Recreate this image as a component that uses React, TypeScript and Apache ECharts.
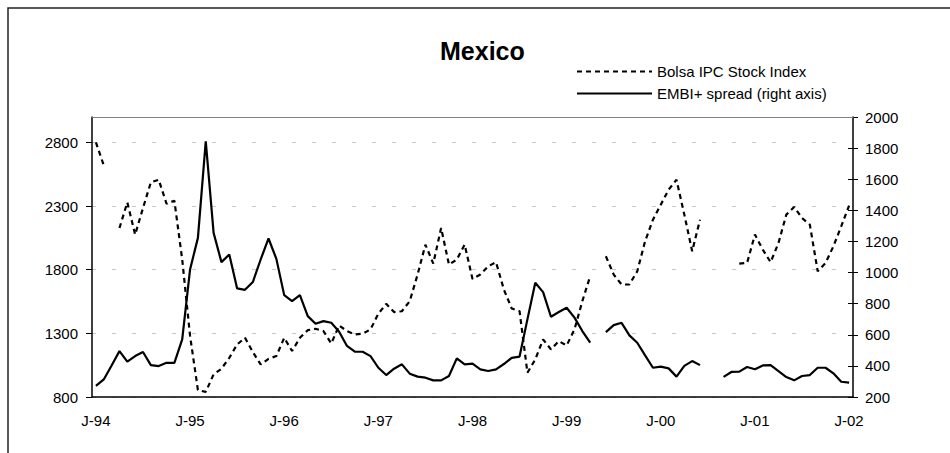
import React, { useEffect, useRef } from 'react';
import * as echarts from 'echarts';

const monthLetters = ['J', 'F', 'M', 'A', 'M', 'J', 'J', 'A', 'S', 'O', 'N', 'D'];
const years = ['94', '95', '96', '97', '98', '99', '00', '01', '02'];
const categories = years.flatMap((y) => monthLetters.map((m) => `${m}-${y}`)).slice(0, 97);

const bolsaIPC: (number | null)[] = [
  2800, 2620, null, 2128, 2329, 2076, 2285, 2486, 2507, 2319, 2342, 1880,
  1280, 855, 840, 978, 1022, 1108, 1213, 1265, 1153, 1056, 1100, 1122,
  1265, 1161, 1265, 1325, 1336, 1318, 1221, 1362, 1318, 1291, 1297, 1331,
  1454, 1532, 1467, 1474, 1553, 1762, 1997, 1848, 2128, 1840, 1880, 1997,
  1728, 1762, 1827, 1859, 1644, 1495, 1474, 991, 1095, 1252, 1174, 1239,
  1205, 1331, 1553, 1749, null, 1906, 1762, 1684, 1684, 1788, 2024, 2193,
  2311, 2429, 2507, 2233, 1945, 2193, null, null, null, null, 1848, 1853,
  2076, 1958, 1859, 2010, 2233, 2293, 2206, 2154, 1788, 1853, 1984, 2141,
  2304,
];

const embiSpread: (number | null)[] = [
  271, 313, 403, 495, 427, 463, 489, 405, 399, 420, 420, 570,
  1020, 1223, 1844, 1255, 1067, 1116, 898, 889, 939, 1084, 1219, 1088,
  855, 817, 855, 720, 671, 688, 677, 620, 528, 491, 491, 463,
  388, 341, 382, 410, 350, 331, 324, 307, 307, 335, 448, 410,
  414, 378, 367, 378, 412, 452, 460, 699, 934, 874, 716, 746,
  774, 710, 624, 549, null, 617, 662, 677, 596, 549, 468, 388,
  395, 384, 331, 400, 431, 405, null, null, 329, 361, 363, 393,
  378, 403, 405, 367, 328, 307, 335, 341, 388, 388, 352, 298,
  292,
];

const leftTicks = [800, 1300, 1800, 2300, 2800];
const leftMin = 800;
const leftMax = 3000;
const leftStep = 500;
const rightMin = 200;
const rightMax = 2000;
const rightStep = 200;

const FONT = '"Liberation Sans", Arial, sans-serif';

export default function App() {
  const ref = useRef<HTMLDivElement>(null);

  useEffect(() => {
    if (!ref.current) return;
    const chart = echarts.init(ref.current, null, { renderer: 'svg' });
    const labelStyle = { color: '#000', fontSize: 15, fontFamily: FONT };
    const plain = (v: number) => String(v);
    chart.setOption({
      animation: false,
      backgroundColor: '#fff',
      textStyle: { fontFamily: FONT },
      title: {
        text: 'Mexico',
        left: 440,
        top: 38,
        padding: 0,
        textStyle: { fontSize: 25, fontWeight: 'bold', color: '#000', fontFamily: FONT },
      },
      legend: {
        orient: 'vertical',
        left: 576,
        top: 64,
        padding: 0,
        itemWidth: 75,
        itemHeight: 14,
        itemGap: 7,
        selectedMode: false,
        itemStyle: { opacity: 0 },
        textStyle: { fontSize: 15, color: '#000', fontFamily: FONT },
        data: ['Bolsa IPC Stock Index', 'EMBI+ spread (right axis)'],
      },
      graphic: [
        {
          type: 'rect',
          shape: { x: 8, y: 8, width: 2000, height: 2000 },
          style: { fill: 'none', stroke: '#222', lineWidth: 1.5 },
          silent: true,
          z: 10,
        },
      ],
      grid: { left: 92, right: 97, top: 117, bottom: 56, containLabel: false },
      xAxis: [
        {
          type: 'category',
          data: categories,
          boundaryGap: true,
          position: 'bottom',
          axisLine: { lineStyle: { color: '#000', width: 1.5 } },
          axisTick: { interval: 0, length: 4, lineStyle: { color: '#000', width: 1 } },
          axisLabel: { ...labelStyle, interval: 11, margin: 16 },
          splitLine: { show: false },
          z: 2,
        },
        {
          type: 'category',
          data: categories,
          boundaryGap: true,
          position: 'bottom',
          axisLine: { show: false },
          axisTick: { interval: 0, inside: true, length: 4, lineStyle: { color: '#000', width: 1 } },
          axisLabel: { show: false },
          splitLine: { show: false },
          z: 2,
        },
        {
          type: 'category',
          data: categories,
          boundaryGap: true,
          position: 'top',
          axisLine: { lineStyle: { color: '#808080', width: 1 } },
          axisTick: { show: false },
          axisLabel: { show: false },
          splitLine: { show: false },
          z: 3,
        },
      ],
      yAxis: [
        {
          type: 'value',
          position: 'left',
          min: leftMin,
          max: leftMax,
          interval: leftStep,
          axisLine: { show: true, lineStyle: { color: '#000', width: 1.5 } },
          axisTick: { show: true, length: 6, customValues: leftTicks, lineStyle: { color: '#000' } },
          axisLabel: { ...labelStyle, margin: 14, customValues: leftTicks, formatter: plain },
          splitLine: {
            show: true,
            lineStyle: { color: '#c8c8c8', width: 1, type: [4, 16] },
          },
          z: 1,
        },
        {
          type: 'value',
          position: 'right',
          min: rightMin,
          max: rightMax,
          interval: rightStep,
          axisLine: { show: true, lineStyle: { color: '#000', width: 1.5 } },
          axisTick: { show: true, length: 5, lineStyle: { color: '#000' } },
          axisLabel: { ...labelStyle, margin: 12, formatter: plain },
          splitLine: { show: false },
          z: 2,
        },
        {
          type: 'value',
          position: 'right',
          min: rightMin,
          max: rightMax,
          interval: rightStep,
          axisLine: { show: false },
          axisTick: { show: true, inside: true, length: 5, lineStyle: { color: '#000' } },
          axisLabel: { show: false },
          splitLine: { show: false },
          z: 2,
        },
      ],
      series: [
        {
          name: 'Bolsa IPC Stock Index',
          type: 'line',
          xAxisIndex: 0,
          yAxisIndex: 0,
          data: bolsaIPC,
          symbol: 'none',
          connectNulls: false,
          silent: true,
          lineStyle: { color: '#000', width: 2.2, type: [5, 4] },
          itemStyle: { color: '#000' },
          z: 5,
        },
        {
          name: 'EMBI+ spread (right axis)',
          type: 'line',
          xAxisIndex: 0,
          yAxisIndex: 1,
          data: embiSpread,
          symbol: 'none',
          connectNulls: false,
          silent: true,
          lineStyle: { color: '#000', width: 2.2, type: 'solid' },
          itemStyle: { color: '#000' },
          z: 5,
        },
      ],
    });
    return () => chart.dispose();
  }, []);

  return (
    <div
      ref={ref}
      style={{ position: 'absolute', left: 0, top: 0, width: 950, height: 453 }}
    />
  );
}
